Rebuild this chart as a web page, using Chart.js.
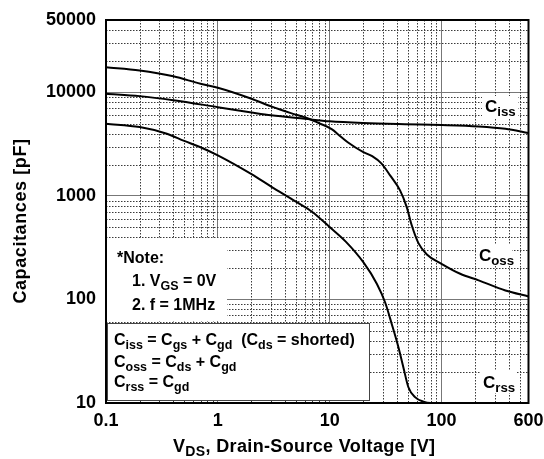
<!DOCTYPE html>
<html>
<head>
<meta charset="utf-8">
<script src="https://cdn.jsdelivr.net/npm/chart.js@4"></script>
<style>
  html, body { margin: 0; padding: 0; background: #fff; }
  #chart { display: block; }
</style>
</head>
<body>
<canvas id="chart" width="544" height="459"></canvas>
<script>
// axis ticks
const X_TICKS = [0.1, 1, 10, 100, 600];
const Y_TICKS = [10, 100, 1000, 10000, 50000];

// Ciss
const CISS_V = [0.1, 0.2, 0.4, 1, 2, 3, 6, 10, 20, 47, 100, 215, 373, 600];
const CISS_C = [9700, 9200, 8400, 7200, 6400, 6000, 5550, 5250, 5050, 4920, 4840, 4690, 4450, 4050];

// Coss
const COSS_V = [0.1, 0.2, 0.4, 0.7, 1, 2, 3, 4.5, 6.5, 8.2, 10.5, 12, 14.5, 20, 24, 29, 34.7, 42.6, 48.9, 54.2, 62.2, 74, 100, 147, 215, 373, 600];
const COSS_C = [17500, 16300, 14300, 12100, 11100, 8690, 7320, 6300, 5570, 5000, 4400, 3900, 3300, 2650, 2420, 2060, 1580, 1130, 780, 520, 350, 272, 221, 177, 153, 122, 107];

// Crss
const CRSS_V = [0.1, 0.2, 0.35, 0.5, 0.7, 1, 2, 3, 5, 7, 10, 14, 20, 26.4, 31.3, 35.9, 41.2, 45.6, 50.6, 58, 69, 80, 600];
const CRSS_C = [4980, 4620, 3990, 3400, 2950, 2460, 1620, 1230, 880, 700, 500, 360, 229, 142, 94, 58, 34.6, 22.2, 14.2, 11.4, 10.3, 10, 10];

const FONT = '"Liberation Sans", Arial, sans-serif';

const pts = (vs, cs) => vs.map((v, i) => ({ x: v, y: cs[i] }));

const curve = (label, data) => ({
  label, data,
  borderColor: "#000",
  borderWidth: 2,
  pointRadius: 0,
  fill: false,
  cubicInterpolationMode: "monotone",
});

// 2..9 x 10^n between the ends
function minorValues(lo, hi) {
  const out = [];
  for (let d = Math.floor(Math.log10(lo)); d <= Math.ceil(Math.log10(hi)); d++) {
    for (let m = 2; m <= 9; m++) {
      const v = +(m * Math.pow(10, d)).toPrecision(6);
      if (v > lo && v < hi) out.push(v);
    }
  }
  return out;
}

function richText(ctx, x, y, parts, size) {
  let cx = x;
  for (const [t, sub] of parts) {
    const s = sub ? size * 0.78 : size;
    ctx.font = `bold ${s}px ${FONT}`;
    ctx.fillText(t, cx, sub ? y + size * 0.24 : y);
    cx += ctx.measureText(t).width;
  }
  return cx;
}

const minorGrid = {
  id: "minorGrid",
  beforeDatasetsDraw(chart) {
    const { ctx, chartArea: a, scales: { x, y } } = chart;
    ctx.save();
    ctx.strokeStyle = "#3a3a3a";
    ctx.lineWidth = 1;
    ctx.setLineDash([1.5, 1.5]);
    for (const v of minorValues(0.1, 600)) {
      const px = Math.round(x.getPixelForValue(v)) + 0.5;
      ctx.beginPath(); ctx.moveTo(px, a.top); ctx.lineTo(px, a.bottom); ctx.stroke();
    }
    for (const v of minorValues(10, 50000)) {
      const py = Math.round(y.getPixelForValue(v)) + 0.5;
      ctx.beginPath(); ctx.moveTo(a.left, py); ctx.lineTo(a.right, py); ctx.stroke();
    }
    ctx.restore();
  },
};

const notes = {
  id: "notes",
  afterDatasetsDraw(chart) {
    const { ctx, chartArea: a } = chart;
    ctx.save();
    ctx.textAlign = "left";
    ctx.textBaseline = "alphabetic";
    ctx.fillStyle = "#000";

    // frame
    ctx.lineWidth = 2;
    ctx.strokeStyle = "#000";
    ctx.strokeRect(a.left, a.top, a.right - a.left, a.bottom - a.top);

    // note block
    ctx.fillStyle = "#fff";
    ctx.fillRect(a.left + 1, 238, 120, 83);
    ctx.fillStyle = "#000";
    richText(ctx, 117, 263, [["*Note:", false]], 16);
    richText(ctx, 132, 286, [["1. V", false], ["GS", true], [" = 0V", false]], 16);
    richText(ctx, 132, 310, [["2. f = 1MHz", false]], 16);

    // formula box
    ctx.fillStyle = "#fff";
    ctx.fillRect(107.5, 323.5, 262, 77);
    ctx.lineWidth = 1;
    ctx.strokeStyle = "#444";
    ctx.strokeRect(107.5, 323.5, 262, 77);
    ctx.fillStyle = "#000";
    richText(ctx, 114, 345, [["C", false], ["iss", true], [" = C", false], ["gs", true], [" + C", false], ["gd", true], ["  (C", false], ["ds", true], [" = shorted)", false]], 16);
    richText(ctx, 114, 367, [["C", false], ["oss", true], [" = C", false], ["ds", true], [" + C", false], ["gd", true]], 16);
    richText(ctx, 114, 387, [["C", false], ["rss", true], [" = C", false], ["gd", true]], 16);

    // curve labels
    const labels = [
      ["iss", 485, 112, 96],
      ["oss", 479, 261, 244],
      ["rss", 483, 388, 371],
    ];
    for (const [sub, lx, ly, top] of labels) {
      ctx.fillStyle = "#fff";
      ctx.fillRect(lx - 3, top, 36, 22);
      ctx.fillStyle = "#000";
      richText(ctx, lx, ly, [["C", false], [sub, true]], 17);
    }

    // axis titles
    ctx.letterSpacing = "0.35px";
    richText(ctx, 173, 452, [["V", false], ["DS", true], [", Drain-Source Voltage [V]", false]], 18);
    ctx.letterSpacing = "0.6px";
    ctx.translate(21, 221);
    ctx.rotate(-Math.PI / 2);
    ctx.textAlign = "center";
    ctx.textBaseline = "middle";
    ctx.font = `bold 18px ${FONT}`;
    ctx.fillText("Capacitances [pF]", 0, 0);
    ctx.restore();
  },
};

const tickFont = { family: FONT, size: 18, weight: "bold" };

new Chart(document.getElementById("chart"), {
  type: "line",
  data: {
    datasets: [
      curve("Ciss", pts(CISS_V, CISS_C)),
      curve("Coss", pts(COSS_V, COSS_C)),
      curve("Crss", pts(CRSS_V, CRSS_C)),
    ],
  },
  options: {
    responsive: false,
    animation: false,
    events: [],
    layout: { padding: { top: 20, right: 15.5, left: 0, bottom: 0 } },
    plugins: { legend: { display: false }, tooltip: { enabled: false } },
    scales: {
      x: {
        type: "logarithmic",
        min: 0.1,
        max: 600,
        afterBuildTicks: (s) => { s.ticks = X_TICKS.map((v) => ({ value: v })); },
        afterFit: (s) => { s.height = 56; s.paddingLeft = 0; s.paddingRight = 0; },
        ticks: { color: "#000", font: tickFont, padding: 7, autoSkip: false, maxRotation: 0, callback: (v) => String(v) },
        grid: { color: "#777", lineWidth: 1, drawTicks: false },
        border: { display: false },
      },
      y: {
        type: "logarithmic",
        min: 10,
        max: 50000,
        afterBuildTicks: (s) => { s.ticks = Y_TICKS.map((v) => ({ value: v })); },
        afterFit: (s) => { s.width = 106; s.paddingTop = 0; s.paddingBottom = 0; },
        ticks: { color: "#000", font: tickFont, padding: 10, autoSkip: false, callback: (v) => String(v) },
        grid: { color: "#777", lineWidth: 1, drawTicks: false },
        border: { display: false },
      },
    },
  },
  plugins: [minorGrid, notes],
});
</script>
</body>
</html>
